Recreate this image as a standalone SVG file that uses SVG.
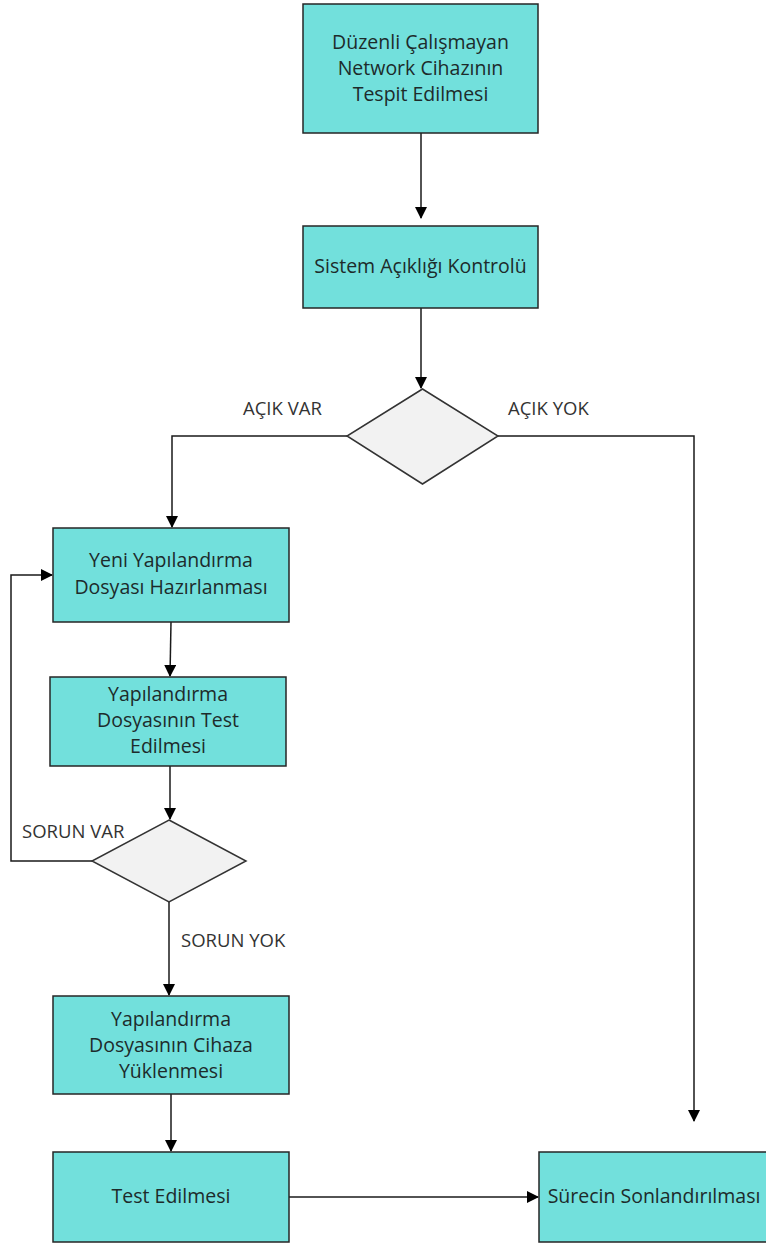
<svg xmlns="http://www.w3.org/2000/svg" width="766" height="1243" viewBox="0 0 766 1243">
<style>
.box{fill:#72e0dc;stroke:#262626;stroke-width:1.5}
.dia{fill:#f2f2f2;stroke:#333;stroke-width:1.5}
.t{font-family:"Open Sans","Liberation Sans",sans-serif;font-size:19.5px;fill:#1d2b2b;text-anchor:middle}
.lbl{font-family:"Open Sans","Liberation Sans",sans-serif;font-size:18.5px;fill:#333}
.c{fill:none;stroke:#1a1a1a;stroke-width:1.5}
</style>
<defs>
<marker id="ah" markerWidth="12" markerHeight="12" refX="11" refY="6" orient="auto" markerUnits="userSpaceOnUse">
<path d="M0,0 L12,6 L0,12 Z" fill="#000"/>
</marker>
</defs>
<rect width="766" height="1243" fill="#fff"/>
<g id="connectors">
<path class="c" d="M421,133 V218" marker-end="url(#ah)"/>
<path class="c" d="M421,308 V388" marker-end="url(#ah)"/>
<path class="c" d="M347,436 H172 V527" marker-end="url(#ah)"/>
<path class="c" d="M498,436 H694 V1121" marker-end="url(#ah)"/>
<path class="c" d="M171,622 L170,676" marker-end="url(#ah)"/>
<path class="c" d="M170,766 V819" marker-end="url(#ah)"/>
<path class="c" d="M92,861 H11 V575 H52" marker-end="url(#ah)"/>
<path class="c" d="M169,902 V995" marker-end="url(#ah)"/>
<path class="c" d="M171,1094 V1151" marker-end="url(#ah)"/>
<path class="c" d="M289,1197 H538" marker-end="url(#ah)"/>
</g>
<g id="n1"><rect class="box" x="303" y="4" width="235" height="129"/>
<text class="t" x="420.5" y="49">Düzenli Çalışmayan</text>
<text class="t" x="420.5" y="75">Network Cihazının</text>
<text class="t" x="420.5" y="101">Tespit Edilmesi</text></g>
<g id="n2"><rect class="box" x="303" y="226" width="235" height="82"/>
<text class="t" x="420.5" y="273">Sistem Açıklığı Kontrolü</text></g>
<g id="d1"><polygon class="dia" points="422.5,389 498,436 422.5,484 347,436"/></g>
<text class="lbl" x="243" y="415">AÇIK VAR</text>
<text class="lbl" x="508" y="415">AÇIK YOK</text>
<g id="n3"><rect class="box" x="53" y="528" width="236" height="94"/>
<text class="t" x="171" y="567">Yeni Yapılandırma</text>
<text class="t" x="171" y="594">Dosyası Hazırlanması</text></g>
<g id="n4"><rect class="box" x="50" y="677" width="236" height="89"/>
<text class="t" x="168" y="701">Yapılandırma</text>
<text class="t" x="168" y="727">Dosyasının Test</text>
<text class="t" x="168" y="753">Edilmesi</text></g>
<g id="d2"><polygon class="dia" points="169,820 246,861 169,902 92,861"/></g>
<text class="lbl" x="22" y="838">SORUN VAR</text>
<text class="lbl" x="181" y="947">SORUN YOK</text>
<g id="n5"><rect class="box" x="53" y="996" width="236" height="98"/>
<text class="t" x="171" y="1026">Yapılandırma</text>
<text class="t" x="171" y="1052">Dosyasının Cihaza</text>
<text class="t" x="171" y="1078">Yüklenmesi</text></g>
<g id="n6"><rect class="box" x="53" y="1152" width="236" height="90"/>
<text class="t" x="171" y="1203">Test Edilmesi</text></g>
<g id="n7"><rect class="box" x="539" y="1152" width="240" height="90"/>
<text class="t" x="654" y="1203">Sürecin Sonlandırılması</text></g>
</svg>
